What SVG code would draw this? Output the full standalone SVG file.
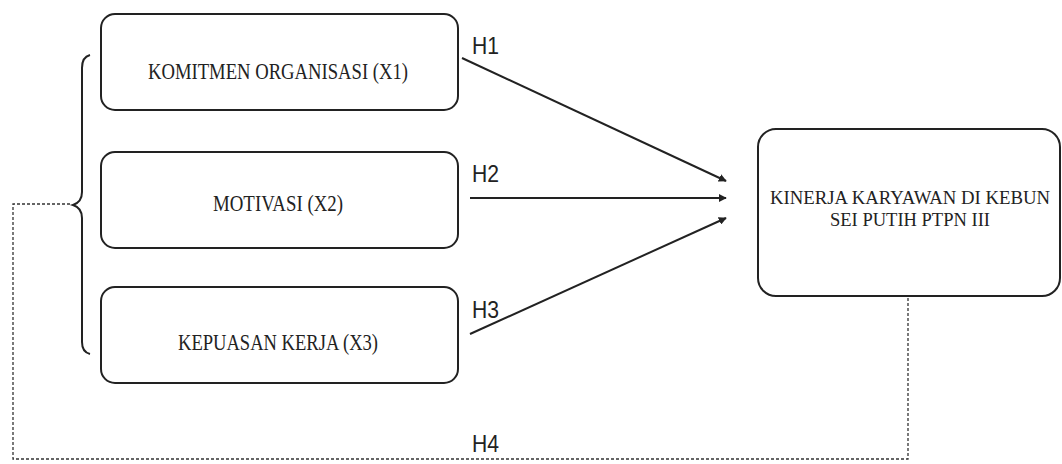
<svg xmlns="http://www.w3.org/2000/svg" width="1062" height="464" viewBox="0 0 1062 464">
<style>
.box{fill:#fff;stroke:#222;stroke-width:2}
.t{font-family:"Liberation Serif","Times New Roman",serif;font-size:23px;fill:#222;text-anchor:middle}
.ty{font-size:19px}
.h{font-family:"Liberation Sans",Arial,sans-serif;font-size:24px;fill:#222}
.ln{stroke:#222;stroke-width:2;fill:none}
.dash{stroke:#333;stroke-width:1.3;fill:none;stroke-dasharray:3 2}
</style>
<defs>
<marker id="arr" viewBox="0 0 10 10" refX="9" refY="5" markerWidth="4" markerHeight="4" orient="auto" markerUnits="strokeWidth">
<path d="M0,0 L10,5 L0,10 z" fill="#222"/>
</marker>
</defs>
<rect width="1062" height="464" fill="#fff"/>
<g id="x1">
<rect class="box" x="101" y="14" width="357" height="96" rx="14"/>
<text class="t" x="278" y="79" textLength="260" lengthAdjust="spacingAndGlyphs">KOMITMEN ORGANISASI (X1)</text>
</g>
<g id="x2">
<rect class="box" x="101" y="152" width="357" height="96" rx="14"/>
<text class="t" x="278" y="211" textLength="130" lengthAdjust="spacingAndGlyphs">MOTIVASI (X2)</text>
</g>
<g id="x3">
<rect class="box" x="101" y="287" width="357" height="96" rx="14"/>
<text class="t" x="278" y="350" textLength="200" lengthAdjust="spacingAndGlyphs">KEPUASAN KERJA (X3)</text>
</g>
<g id="y">
<rect class="box" x="758" y="129" width="302" height="167" rx="18"/>
<text class="t ty" x="910" y="204" textLength="280" lengthAdjust="spacingAndGlyphs">KINERJA KARYAWAN DI KEBUN</text>
<text class="t ty" x="910" y="226" textLength="160" lengthAdjust="spacingAndGlyphs">SEI PUTIH PTPN III</text>
</g>
<g id="brace">
<path class="ln" stroke-width="1.6" d="M90,55 Q82,57 82,68 L82,192 Q82,202 73,205 Q82,208 82,218 L82,342 Q82,352 90,354"/>
</g>
<g id="connectors">
<line class="ln" x1="462" y1="58" x2="726" y2="181" marker-end="url(#arr)"/>
<line class="ln" x1="470" y1="198" x2="726" y2="198" marker-end="url(#arr)"/>
<line class="ln" x1="470" y1="334" x2="726" y2="218" marker-end="url(#arr)"/>
<path class="dash" d="M70,204 L13,204 L13,459 L908,459 L908,297"/>
</g>
<g id="labels">
<text class="h" x="472" y="54" textLength="27" lengthAdjust="spacingAndGlyphs">H1</text>
<text class="h" x="472" y="182" textLength="27" lengthAdjust="spacingAndGlyphs">H2</text>
<text class="h" x="472" y="318" textLength="27" lengthAdjust="spacingAndGlyphs">H3</text>
<text class="h" x="472" y="452" textLength="27" lengthAdjust="spacingAndGlyphs">H4</text>
</g>
</svg>
